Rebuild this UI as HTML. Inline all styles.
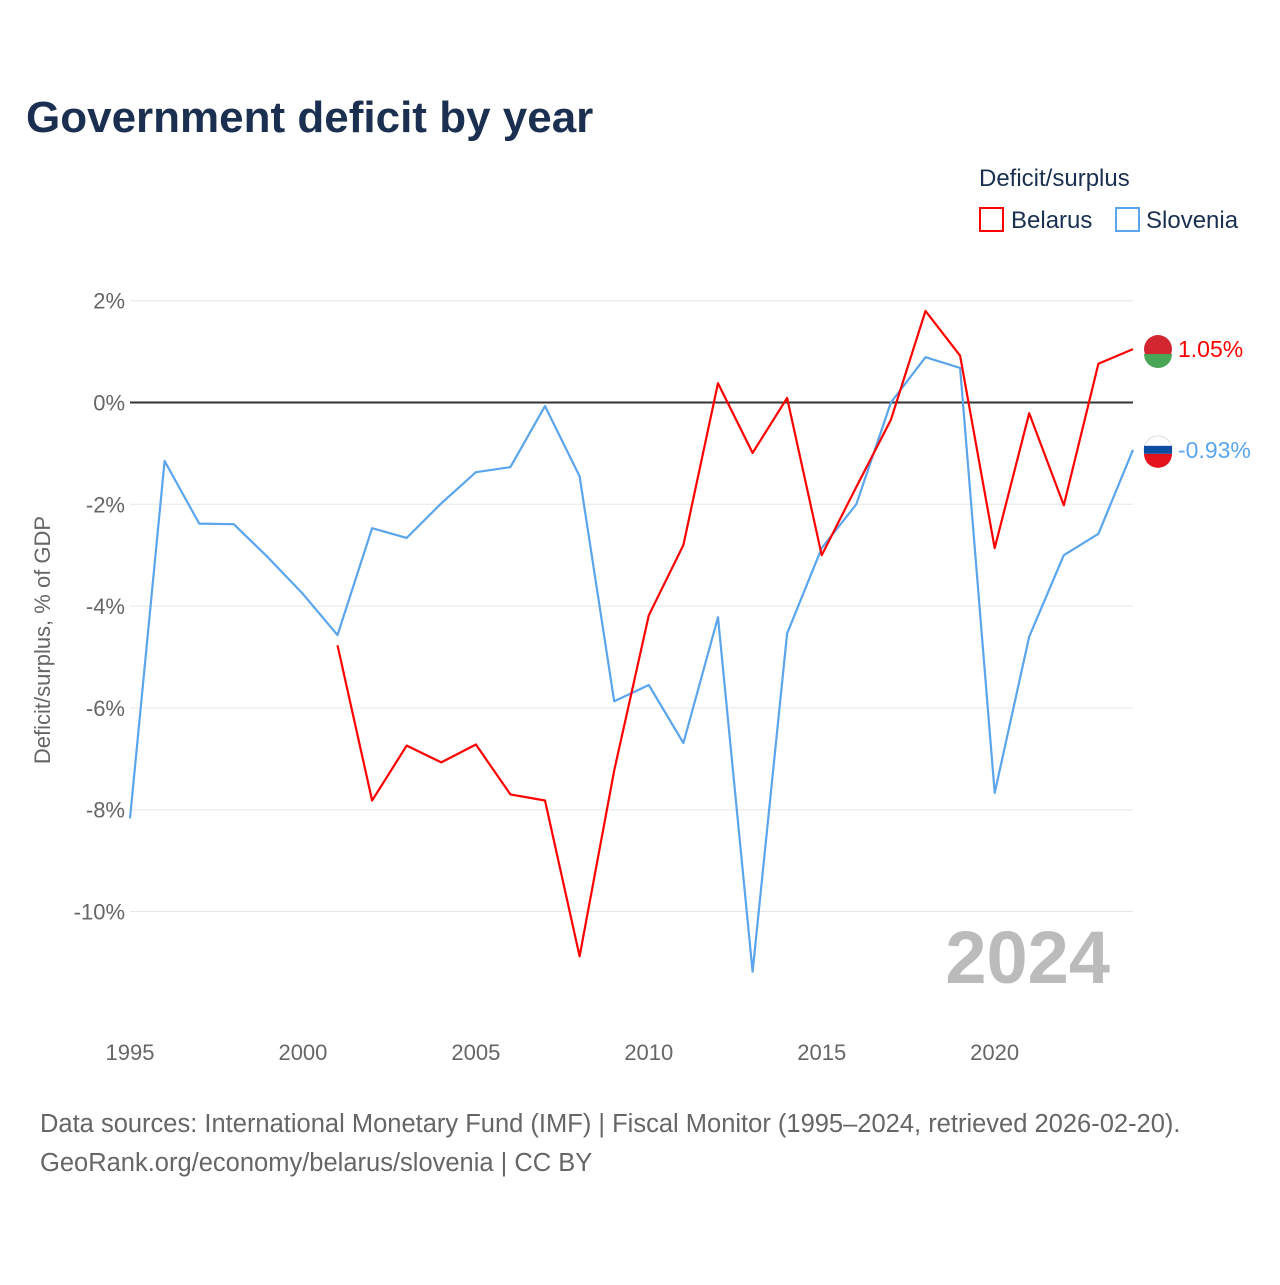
<!DOCTYPE html>
<html><head><meta charset="utf-8"><style>
body{margin:0;background:#fff;font-family:"Liberation Sans",sans-serif}
</style></head><body>
<svg id="c" width="1280" height="1280" xmlns="http://www.w3.org/2000/svg" font-family="Liberation Sans, sans-serif">
<text x="26" y="132" font-size="44" font-weight="bold" fill="#1b3050">Government deficit by year</text>
<text x="979" y="186" font-size="24" fill="#1b3050">Deficit/surplus</text>
<rect x="980" y="208" width="23" height="23" fill="none" stroke="#f00" stroke-width="2"/>
<text x="1011" y="228" font-size="24" fill="#1b3050">Belarus</text>
<rect x="1116" y="208" width="23" height="23" fill="none" stroke="#5aa5ec" stroke-width="2"/>
<text x="1146" y="228" font-size="24" fill="#1b3050">Slovenia</text>
<text transform="translate(50,640) rotate(-90)" text-anchor="middle" font-size="22" fill="#666">Deficit/surplus, % of GDP</text>
<text x="1110" y="983" text-anchor="end" font-size="74" font-weight="bold" fill="#bbb">2024</text>
<text x="40" y="1132" font-size="25.5" fill="#666">Data sources: International Monetary Fund (IMF) | Fiscal Monitor (1995–2024, retrieved 2026-02-20).</text>
<text x="40" y="1171" font-size="25.5" fill="#666">GeoRank.org/economy/belarus/slovenia | CC BY</text>
<g id="g"></g>
</svg>
<script>
const years=[1995,1996,1997,1998,1999,2000,2001,2002,2003,2004,2005,2006,2007,2008,2009,2010,2011,2012,2013,2014,2015,2016,2017,2018,2019,2020,2021,2022,2023,2024];
const slovenia=[-8.17,-1.15,-2.38,-2.39,-3.05,-3.76,-4.57,-2.47,-2.66,-1.98,-1.37,-1.27,-0.07,-1.45,-5.87,-5.55,-6.69,-4.22,-11.18,-4.54,-2.86,-2.0,0.0,0.89,0.68,-7.67,-4.6,-3.0,-2.58,-0.93];
const belarus=[null,null,null,null,null,null,-4.77,-7.82,-6.74,-7.07,-6.72,-7.7,-7.82,-10.88,-7.23,-4.18,-2.8,0.38,-0.99,0.09,-3.0,-1.66,-0.34,1.8,0.92,-2.86,-0.21,-2.02,0.76,1.05];
const yTicks=[2,0,-2,-4,-6,-8,-10];
const xTicks=[1995,2000,2005,2010,2015,2020];
const X=y=>130+(y-1995)*(1003/29);
const Y=v=>402.5-v*50.9;
const ns="http://www.w3.org/2000/svg",g=document.getElementById('g');
function mk(t,a){const e=document.createElementNS(ns,t);for(const k in a)e.setAttribute(k,a[k]);g.appendChild(e);return e;}
yTicks.forEach(v=>{
 const l=mk('line',{x1:130,x2:1133,y1:Y(v),y2:Y(v),stroke:v===0?'#333':'#e6e6e6','stroke-width':v===0?2:1});
 
 
 const t=mk('text',{x:125,y:Y(v)+8,'text-anchor':'end','font-size':22,fill:'#666'});
 t.textContent=v+'%';
 
 
});
xTicks.forEach(v=>{
 const t=mk('text',{x:X(v),y:1060,'text-anchor':'middle','font-size':22,fill:'#666'});
 t.textContent=v;
 
 
});
function line(vals,color,name){
 let d='';vals.forEach((v,i)=>{if(v===null)return;d+=(d?'L':'M')+X(years[i]).toFixed(1)+','+Y(v).toFixed(1);});
 const p=mk('path',{d:d,fill:'none',stroke:color,'stroke-width':2.2,'stroke-linejoin':'round'});
 
 
 const last=vals[vals.length-1];
 const t=mk('text',{x:1178,y:Y(last)+8,'font-size':23,fill:color});
 t.textContent=last.toFixed(2)+'%';
 
 
}
line(slovenia,'#5aa5ec','slovenia-line');
line(belarus,'#f00','belarus-line');
const by=Y(belarus[29]),sy=Y(slovenia[29]);
let c=mk('circle',{cx:1158,cy:by,r:14,fill:'#d22730'});
mk('path',{d:`M1144,${by+5} H1172 A14,14 0 0 1 1144,${by+5}Z`,fill:'#4aa657'});
c=mk('circle',{cx:1158,cy:sy,r:14,fill:'#fff',stroke:'#ddd'});
mk('rect',{x:1144,y:sy-4,width:28,height:8,fill:'#0b4ea2'});
mk('path',{d:`M1144,${sy+4} H1172 A14,14 0 0 1 1144,${sy+4}Z`,fill:'#e4121b'});
</script>
</body></html>
